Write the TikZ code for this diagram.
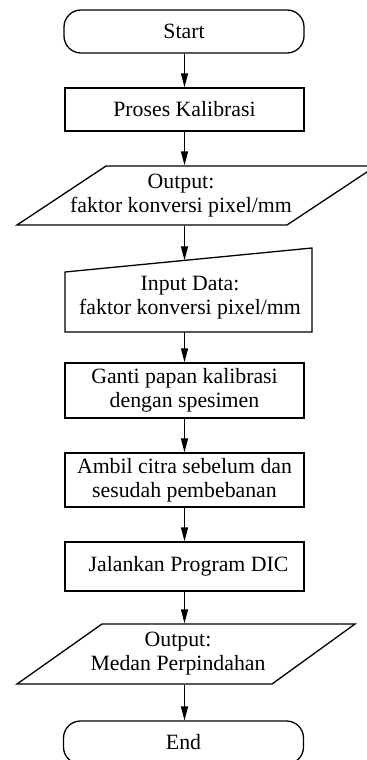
\documentclass[tikz,border=0pt]{standalone}
\usepackage{fontspec}
\setmainfont{Liberation Serif}
\usetikzlibrary{arrows.meta}
\begin{document}
\begin{tikzpicture}[x=0.5pt,y=-0.5pt,
  line width=0.65pt,
  every node/.style={font=\fontsize{10.9}{12}\selectfont, align=center, inner sep=0pt},
  box/.style={draw, rectangle, minimum width=119.5pt, minimum height=#1},
  term/.style={draw, rectangle, rounded corners=8.5pt, minimum width=120pt, minimum height=21.5pt},
  textarea/.style={rectangle, minimum height=#1},
  arr/.style={-{Triangle[length=7pt,width=3.5pt]}},
]
\useasboundingbox (0,0) rectangle (366,760);

% shapes drawn directly
\draw (106,166) -- (376,166) -- (287,225) -- (17,225) -- cycle;
\draw (65,272) -- (312,248) -- (312,332) -- (65,332) -- cycle;
\draw (102,624) -- (355,624) -- (272,684) -- (17,684) -- cycle;

\node[term] (start) at (184,31.5) {Start};
\node[box=21.5pt] (proses) at (184.5,109.5) {Proses Kalibrasi};
\node[textarea=29.5pt] (out1) at (181,195.5) {Output:\\faktor konversi pixel/mm};
\node (in1) at (190,298) {Input Data:\\faktor konversi pixel/mm};
\coordinate (in1top) at (184.5,260.3);
\coordinate (in1bot) at (184.5,332);
\node[box=27.5pt] (ganti) at (184.5,390.5) {Ganti papan kalibrasi\\dengan spesimen};
\node[box=27pt] (ambil) at (184.5,480) {Ambil citra sebelum dan\\sesudah pembebanan};
\node[box=24.5pt] (dic) at (184.5,566.5) {\hspace{4pt}Jalankan Program DIC};
\node[textarea=30pt] (out2) at (178,654) {Output:\\Medan Perpindahan};
\node[term] (end) at (183.5,742.5) {End};

\draw[arr] (start.south -| proses.south) -- (proses.north);
\draw[arr] (proses.south) -- (proses.south |- out1.north);
\draw[arr] (proses.south |- out1.south) -- (in1top);
\draw[arr] (in1bot) -- (ganti.north);
\draw[arr] (ganti.south) -- (ambil.north);
\draw[arr] (ambil.south) -- (dic.north);
\draw[arr] (dic.south) -- (dic.south |- out2.north);
\draw[arr] (dic.south |- out2.south) -- (end.north -| dic.south);
\end{tikzpicture}
\end{document}
